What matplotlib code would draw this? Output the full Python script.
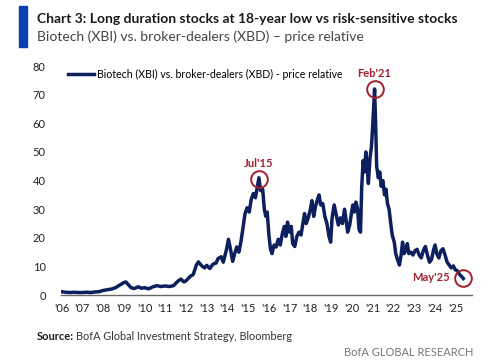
import matplotlib.pyplot as plt
from matplotlib.patches import Rectangle

# Biotech (XBI) / broker-dealers (XBD) price relative
dates = [
    2006.0, 2006.2, 2006.4, 2006.6, 2006.8, 2007.0, 2007.2, 2007.4, 2007.6, 2007.8,
    2008.0, 2008.2, 2008.4, 2008.6, 2008.8, 2008.9, 2009.0, 2009.1, 2009.2, 2009.35,
    2009.5, 2009.7, 2009.85, 2010.0, 2010.2, 2010.4, 2010.6, 2010.8, 2011.0, 2011.2,
    2011.4, 2011.6, 2011.75, 2011.9, 2012.0, 2012.2, 2012.35, 2012.5, 2012.6, 2012.75,
    2012.9, 2013.0, 2013.15, 2013.3, 2013.45, 2013.55, 2013.7, 2013.8, 2013.95, 2014.05,
    2014.15, 2014.25, 2014.35, 2014.45, 2014.55, 2014.65, 2014.75, 2014.85, 2014.95, 2015.05,
    2015.15, 2015.25, 2015.35, 2015.45, 2015.52, 2015.6, 2015.7, 2015.78, 2015.85, 2015.92,
    2016.0, 2016.08, 2016.15, 2016.25, 2016.35, 2016.45, 2016.55, 2016.65, 2016.75, 2016.82,
    2016.9, 2016.98, 2017.08, 2017.15, 2017.25, 2017.35, 2017.45, 2017.55, 2017.65, 2017.72,
    2017.8, 2017.9, 2018.0, 2018.08, 2018.16, 2018.25, 2018.35, 2018.42, 2018.5, 2018.6,
    2018.7, 2018.8, 2018.9, 2018.98, 2019.05, 2019.15, 2019.25, 2019.35, 2019.45, 2019.55,
    2019.65, 2019.72, 2019.8, 2019.9, 2019.98, 2020.05, 2020.12, 2020.2, 2020.28, 2020.35,
    2020.42, 2020.48, 2020.55, 2020.6, 2020.68, 2020.75, 2020.8, 2020.88, 2020.95, 2021.0,
    2021.05, 2021.1, 2021.15, 2021.2, 2021.28, 2021.35, 2021.42, 2021.5, 2021.58, 2021.65,
    2021.72, 2021.8, 2021.88, 2021.95, 2022.05, 2022.12, 2022.2, 2022.3, 2022.38, 2022.45,
    2022.52, 2022.6, 2022.68, 2022.75, 2022.85, 2022.95, 2023.05, 2023.15, 2023.25, 2023.35,
    2023.45, 2023.55, 2023.65, 2023.75, 2023.85, 2023.95, 2024.02, 2024.1, 2024.2, 2024.3,
    2024.4, 2024.5, 2024.6, 2024.7, 2024.8, 2024.9, 2025.0, 2025.1, 2025.2, 2025.3,
    2025.38,
]
ratio = [
    1.2, 1.0, 0.9, 1.0, 0.9, 0.9, 1.0, 0.9, 1.1, 1.2,
    1.6, 1.9, 2.1, 2.6, 3.5, 3.9, 4.4, 4.6, 3.8, 2.6,
    2.3, 2.9, 2.4, 2.6, 2.2, 2.9, 3.3, 3.0, 3.2, 3.0,
    3.3, 4.8, 5.6, 4.6, 5.0, 6.5, 7.2, 10.5, 11.6, 10.3,
    9.5, 10.4, 9.3, 10.8, 11.2, 12.8, 13.4, 11.5, 15.8, 19.5,
    16.0, 11.8, 14.5, 16.8, 15.0, 18.5, 23.5, 28.5, 30.5, 29.0,
    33.5, 35.5, 34.0, 38.0, 41.0, 36.5, 37.0, 30.0, 27.5, 29.0,
    21.0, 16.0, 14.5, 17.5, 16.8, 19.5, 17.5, 21.5, 24.0, 20.5,
    25.5, 22.0, 24.0, 18.0, 17.0, 20.5, 22.0, 21.0, 25.5, 28.5,
    25.0, 27.0, 30.0, 33.0, 27.5, 31.0, 33.5, 35.0, 31.5, 32.0,
    27.5, 25.0, 20.5, 18.5, 27.0, 31.5, 28.0, 24.5, 27.0, 25.0,
    30.0, 26.5, 22.0, 24.5, 28.5, 31.5, 29.0, 32.5, 30.0, 23.0,
    22.0, 38.0, 47.0, 43.0, 50.0, 44.0, 39.0, 48.0, 52.0, 58.0,
    65.0, 72.0, 60.0, 45.0, 41.0, 43.0, 38.0, 40.0, 35.0, 37.0,
    32.0, 30.0, 25.0, 21.0, 18.5, 14.5, 12.5, 10.5, 14.0, 18.5,
    14.5, 15.5, 18.0, 14.5, 15.0, 14.0, 15.5, 16.0, 14.0, 13.0,
    15.5, 17.0, 14.0, 11.5, 12.5, 16.0, 17.5, 14.5, 13.0, 15.5,
    16.2, 14.0, 11.5, 10.5, 9.5, 10.2, 8.8, 8.5, 7.2, 6.5,
    5.8,
]

year_ticks = list(range(2006, 2026))
year_labels = ["'%02d" % (y % 100) for y in year_ticks]

# highlighted points: label, x, y
marks = [("Jul'15", 2015.52, 40.5), ("Feb'21", 2021.1, 72.0), ("May'25", 2025.38, 6.0)]

navy = '#0d1f5c'
red = '#a31f2f'
plt.rcParams['font.family'] = ['Lato', 'DejaVu Sans']

fig = plt.figure(figsize=(5, 3.63), dpi=100)
ax = fig.add_axes([0.122, 0.187, 0.822, 0.631])

ax.plot(dates, ratio, color=navy, lw=2.5,
        label='Biotech (XBI) vs. broker-dealers (XBD) - price relative')

for lab, x, y in marks:
    ax.plot(x, y, 'o', ms=12, mfc='none', mec=red, mew=1.4)
ax.text(2015.52, 46.0, "Jul'15", color=red, fontsize=8, fontweight='bold', ha='center', va='center')
ax.text(2021.1, 77.5, "Feb'21", color=red, fontsize=8, fontweight='bold', ha='center', va='center')
ax.text(2024.75, 6.3, "May'25", color=red, fontsize=8, fontweight='bold', ha='right', va='center')

ax.set_xlim(2005.97, 2025.8)
ax.set_ylim(0, 80)
ax.set_yticks(range(0, 81, 10))
ax.set_xticks(year_ticks)
ax.set_xticklabels(year_labels)
ax.tick_params(length=0, labelsize=8, colors='#222222')
ax.tick_params(axis='y', pad=11)
ax.tick_params(axis='x', pad=6)
for s in ['top', 'right', 'left']:
    ax.spines[s].set_visible(False)
ax.spines['bottom'].set_color('#666666')
ax.spines['bottom'].set_linewidth(1.0)

leg = ax.legend(loc='upper left', bbox_to_anchor=(0.0, 1.02), frameon=False,
                fontsize=7.6, handlelength=2.4, handletextpad=0.3, borderaxespad=0.3)

# header
fig.patches.append(Rectangle((19 / 500, 1 - 47 / 363), 8 / 500, 41 / 363,
                             transform=fig.transFigure, color='#0a3fae'))
fig.text(37 / 500, 1 - 19 / 363, 'Chart 3: Long duration stocks at 18-year low vs risk-sensitive stocks',
         fontsize=10, fontweight='bold', color='#1a1a1a', va='center')
fig.text(37 / 500, 1 - 37 / 363, 'Biotech (XBI) vs. broker-dealers (XBD) \u2013 price relative',
         fontsize=10, color='#444444', va='center')

# footer
fig.text(37 / 500, 1 - 337 / 363, 'Source:', fontsize=8, fontweight='bold', color='#1a1a1a', va='center')
fig.text(76 / 500, 1 - 337 / 363, 'BofA Global Investment Strategy, Bloomberg',
         fontsize=7.8, color='#333333', va='center')
fig.text(473 / 500, 1 - 352 / 363, 'BofA GLOBAL RESEARCH', fontsize=8, color='#777777',
         ha='right', va='center')

fig.savefig('out.png', dpi=100)
